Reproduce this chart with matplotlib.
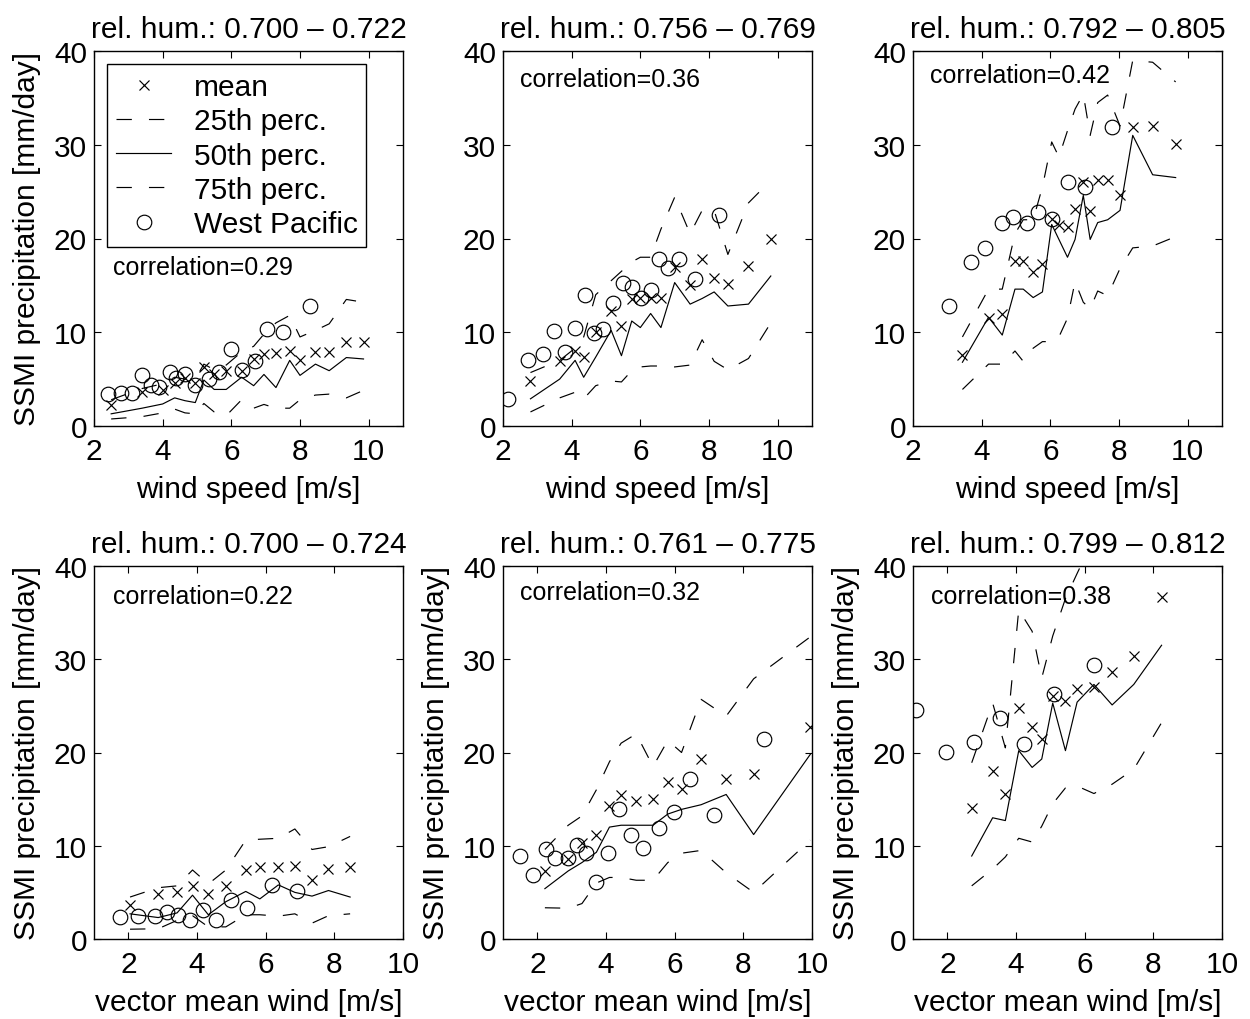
import matplotlib
matplotlib.use('Agg')
import matplotlib.pyplot as plt

plt.rcParams['font.family'] = ['Liberation Sans', 'DejaVu Sans']

# ---------------- data ----------------
titles = ['rel. hum.: 0.700 – 0.722', 'rel. hum.: 0.756 – 0.769', 'rel. hum.: 0.792 – 0.805',
          'rel. hum.: 0.700 – 0.724', 'rel. hum.: 0.761 – 0.775', 'rel. hum.: 0.799 – 0.812']
corr_labels = ['correlation=0.29', 'correlation=0.36', 'correlation=0.42',
               'correlation=0.22', 'correlation=0.32', 'correlation=0.38']
xlabels = ['wind speed [m/s]', 'vector mean wind [m/s]']
ylabel = 'SSMI precipitation [mm/day]'
yticks = [0, 10, 20, 30, 40]
xticks = [2, 4, 6, 8, 10]
legend_labels = ['mean', '25th perc.', '50th perc.', '75th perc.', 'West Pacific']

# top-left
tl_x    = [2.5, 3.4, 4.0, 4.35, 4.65, 4.95, 5.2, 5.5, 5.85, 6.3, 6.65, 6.95, 7.3, 7.7, 8.0, 8.45, 8.85, 9.35, 9.85]
tl_mean = [2.2, 3.6, 3.8, 4.6, 5.1, 4.6, 6.3, 5.6, 5.9, 5.9, 7.1, 7.7, 7.8, 8.0, 7.0, 7.9, 7.9, 9.0, 9.0]
tl_p25  = [0.75, 1.0, 1.4, 1.8, 1.4, 1.3, 2.4, 1.5, 1.1, 2.8, 1.9, 2.3, 1.9, 1.9, 2.8, 3.3, 3.4, 3.0, 3.8]
tl_p50  = [1.3, 1.9, 2.35, 3.0, 2.7, 2.5, 4.9, 3.9, 3.9, 5.2, 4.3, 5.5, 4.1, 7.0, 5.4, 6.6, 5.9, 7.3, 7.15]
tl_p75  = [2.8, 4.0, 4.5, 5.2, 5.0, 5.0, 6.6, 6.0, 6.5, 7.9, 8.5, 9.8, 11.0, 11.8, 9.5, 10.2, 10.9, 13.5, 13.2]
tl_wp_x = [2.4, 2.8, 3.1, 3.4, 3.65, 3.9, 4.2, 4.4, 4.65, 4.95, 5.35, 5.65, 6.0, 6.3, 6.7, 7.05, 7.5, 8.3]
tl_wp_y = [3.4, 3.5, 3.5, 5.4, 4.4, 4.2, 5.8, 5.1, 5.5, 4.4, 5.0, 5.8, 8.2, 6.0, 6.9, 10.3, 10.0, 12.8]

# top-middle
tm_x    = [2.8, 3.65, 4.1, 4.35, 4.7, 5.15, 5.45, 5.75, 6.0, 6.3, 6.6, 7.0, 7.45, 7.8, 8.15, 8.55, 9.15, 9.8]
tm_mean = [4.8, 6.9, 8.0, 7.4, 10.0, 12.3, 10.7, 13.5, 13.7, 13.7, 13.7, 17.0, 15.0, 17.8, 15.8, 15.2, 17.1, 20.0]
tm_p25  = [1.5, 3.0, 3.6, 2.9, 4.3, 4.8, 4.7, 5.9, 6.3, 6.4, 6.4, 6.3, 6.5, 9.2, 6.9, 6.0, 7.2, 11.0]
tm_p50  = [2.9, 5.0, 7.0, 5.2, 7.35, 10.2, 7.5, 11.2, 10.5, 12.0, 10.5, 15.3, 13.0, 13.6, 14.3, 12.8, 13.0, 16.0]
tm_p75  = [5.7, 7.0, 8.3, 9.5, 14.0, 15.5, 16.5, 17.5, 18.0, 18.0, 21.0, 24.4, 20.5, 23.0, 23.0, 18.3, 23.8, 26.2]
tm_wp_x = [2.15, 2.72, 3.17, 3.48, 3.8, 4.09, 4.4, 4.64, 4.91, 5.2, 5.49, 5.75, 6.02, 6.3, 6.54, 6.8, 7.14, 7.59, 8.3]
tm_wp_y = [2.9, 7.0, 7.7, 10.1, 7.9, 10.45, 14.0, 9.9, 10.4, 13.1, 15.3, 14.8, 13.65, 14.5, 17.8, 16.9, 17.8, 15.7, 22.5]

# top-right
tr_x    = [3.44, 4.2, 4.6, 4.97, 5.21, 5.5, 5.77, 6.04, 6.25, 6.5, 6.72, 6.96, 7.16, 7.38, 7.67, 8.03, 8.4, 8.98, 9.65]
tr_mean = [7.6, 11.5, 12.0, 17.6, 17.6, 16.4, 17.3, 22.1, 21.4, 21.2, 23.1, 26.0, 22.9, 26.2, 26.2, 24.6, 31.9, 32.0, 30.1]
tr_p25  = [3.9, 6.6, 6.6, 8.0, 6.9, 8.3, 9.0, 9.0, 9.5, 11.5, 15.4, 13.2, 12.5, 14.4, 13.9, 16.8, 19.0, 19.2, 20.2]
tr_p50  = [6.8, 11.6, 9.7, 14.6, 14.6, 13.7, 14.3, 21.5, 19.9, 18.0, 19.9, 24.6, 19.9, 21.7, 22.0, 23.0, 31.0, 26.8, 26.5]
tr_p75  = [9.5, 14.6, 14.6, 20.5, 22.0, 22.0, 25.5, 30.3, 28.7, 31.5, 33.8, 35.4, 31.0, 34.5, 35.3, 32.0, 39.0, 38.8, 36.7]
tr_wp_x = [3.06, 3.68, 4.1, 4.6, 4.92, 5.31, 5.63, 6.04, 6.52, 7.0, 7.79]
tr_wp_y = [12.8, 17.5, 19.0, 21.7, 22.3, 21.7, 22.8, 22.1, 26.0, 25.5, 31.9]

# bottom-left
bl_x    = [2.05, 2.87, 3.42, 3.87, 4.33, 4.84, 5.42, 5.83, 6.37, 6.85, 7.35, 7.83, 8.46]
bl_mean = [3.6, 4.85, 5.0, 5.7, 4.85, 5.65, 7.45, 7.7, 7.7, 7.8, 6.3, 7.5, 7.7]
bl_p25  = [1.05, 1.1, 2.0, 2.5, 1.3, 1.3, 2.6, 2.6, 2.45, 2.7, 1.7, 2.5, 2.7]
bl_p50  = [2.7, 2.3, 2.8, 4.7, 2.6, 4.0, 5.1, 4.3, 5.8, 5.0, 4.6, 5.2, 4.5]
bl_p75  = [4.5, 5.5, 5.7, 7.4, 5.9, 7.4, 10.6, 10.7, 10.8, 11.8, 9.6, 9.9, 11.0]
bl_wp_x = [1.76, 2.29, 2.78, 3.13, 3.46, 3.79, 4.18, 4.56, 5.0, 5.47, 6.19, 6.9]
bl_wp_y = [2.35, 2.5, 2.45, 2.9, 2.6, 2.0, 3.1, 2.0, 4.2, 3.3, 5.8, 5.2]

# bottom-middle
bm_x    = [2.22, 2.9, 3.3, 3.72, 4.1, 4.44, 4.88, 5.37, 5.8, 6.2, 6.77, 7.5, 8.3, 9.95]
bm_mean = [7.3, 8.6, 10.3, 11.1, 14.3, 15.4, 14.8, 15.0, 16.8, 16.1, 19.3, 17.2, 17.7, 22.7]
bm_p25  = [3.35, 3.3, 3.8, 6.0, 6.6, 6.6, 6.3, 6.3, 8.2, 9.2, 9.5, 7.1, 5.0, 10.6]
bm_p50  = [5.4, 7.3, 8.2, 9.3, 12.0, 12.2, 12.2, 12.2, 13.4, 13.9, 14.4, 15.5, 11.2, 19.8]
bm_p75  = [9.6, 12.2, 13.2, 16.0, 19.0, 21.0, 22.0, 18.5, 21.3, 20.0, 25.7, 23.9, 27.9, 32.4]
bm_wp_x = [1.5, 1.88, 2.24, 2.52, 2.89, 3.15, 3.43, 3.72, 4.06, 4.37, 4.72, 5.08, 5.54, 5.97, 6.45, 7.16, 8.6]
bm_wp_y = [8.9, 6.85, 9.65, 8.7, 8.65, 10.1, 9.25, 6.15, 9.2, 13.95, 11.1, 9.75, 11.9, 13.6, 17.2, 13.3, 21.4]

# bottom-right
br_x    = [2.71, 3.32, 3.69, 4.08, 4.47, 4.75, 5.07, 5.44, 5.78, 6.27, 6.8, 7.43, 8.24]
br_mean = [14.1, 18.0, 15.6, 24.75, 22.7, 21.5, 26.1, 25.5, 26.8, 27.0, 28.6, 30.4, 36.7]
br_p25  = [5.7, 7.5, 8.8, 10.8, 10.4, 12.1, 14.5, 16.2, 16.4, 15.6, 16.6, 18.2, 23.2]
br_p50  = [8.9, 13.0, 12.7, 20.2, 18.4, 19.3, 25.3, 20.2, 25.4, 27.3, 25.1, 27.3, 31.5]
br_p75  = [18.9, 25.3, 20.5, 35.3, 33.0, 28.0, 32.5, 36.5, 39.2, 43.0, 47.0, 50.0, 55.0]
br_wp_x = [1.1, 1.97, 2.78, 3.52, 4.23, 5.1, 6.27]
br_wp_y = [24.6, 20.1, 21.1, 23.75, 20.9, 26.3, 29.4]

panels = [
    (tl_x, tl_mean, tl_p25, tl_p50, tl_p75, tl_wp_x, tl_wp_y),
    (tm_x, tm_mean, tm_p25, tm_p50, tm_p75, tm_wp_x, tm_wp_y),
    (tr_x, tr_mean, tr_p25, tr_p50, tr_p75, tr_wp_x, tr_wp_y),
    (bl_x, bl_mean, bl_p25, bl_p50, bl_p75, bl_wp_x, bl_wp_y),
    (bm_x, bm_mean, bm_p25, bm_p50, bm_p75, bm_wp_x, bm_wp_y),
    (br_x, br_mean, br_p25, br_p50, br_p75, br_wp_x, br_wp_y),
]

# ---------------- layout ----------------
W, H = 1250, 1020
fig = plt.figure(figsize=(W / 100, H / 100), dpi=100)

col_left = [94, 503, 913]
ax_w = 309
row_top = [52, 567]
row_bot = [427, 940]
corr_pos = [(0.061, 0.424), (0.055, 0.925), (0.055, 0.936),
            (0.062, 0.92), (0.055, 0.93), (0.058, 0.92)]

FS = 21.5
FS_SMALL = 18
LW = 0.85
DASH = (13, 14.5)

for i, (x, mean, p25, p50, p75, wpx, wpy) in enumerate(panels):
    r, c = divmod(i, 3)
    left = col_left[c] / W
    bottom = 1 - row_bot[r] / H
    height = (row_bot[r] - row_top[r]) / H
    ax = fig.add_axes([left, bottom, ax_w / W, height])

    h1, = ax.plot(x, mean, linestyle='none', marker='x', ms=7, mew=LW, color='black')
    h2, = ax.plot(x, p25, color='black', lw=LW, dashes=DASH)
    h3, = ax.plot(x, p50, color='black', lw=LW)
    h4, = ax.plot(x, p75, color='black', lw=LW, dashes=DASH)
    h5, = ax.plot(wpx, wpy, linestyle='none', marker='o', ms=10.5, mew=LW,
                  mfc='none', mec='black')

    if r == 0:
        ax.set_xlim(2, 11)
    else:
        ax.set_xlim(1, 10)
    ax.set_ylim(0, 40)
    ax.set_xticks(xticks)
    ax.set_yticks(yticks)
    ax.tick_params(direction='in', length=5, width=0.8, top=True, right=True,
                   labelsize=FS)
    ax.tick_params(axis='x', pad=8)
    ax.tick_params(axis='y', pad=5)
    for sp in ax.spines.values():
        sp.set_linewidth(1.0)

    ax.set_title(titles[i], fontsize=FS, pad=10)
    ax.set_xlabel(xlabels[r], fontsize=FS, labelpad=7)
    if c == 0 or r == 1:
        ax.set_ylabel(ylabel, fontsize=FS, labelpad=9)

    ax.text(corr_pos[i][0], corr_pos[i][1], corr_labels[i], transform=ax.transAxes,
            fontsize=FS_SMALL, ha='left', va='center')

    if i == 0:
        leg = ax.legend([h1, h2, h3, h4, h5], legend_labels, loc='upper left',
                        bbox_to_anchor=(0.042, 0.965), borderaxespad=0,
                        fontsize=FS, frameon=True, fancybox=False,
                        edgecolor='black', framealpha=1, handlelength=1.85,
                        handletextpad=0.75, labelspacing=0.21, borderpad=0.3)
        leg.get_frame().set_linewidth(1.0)

fig.savefig('out.png', dpi=100)
